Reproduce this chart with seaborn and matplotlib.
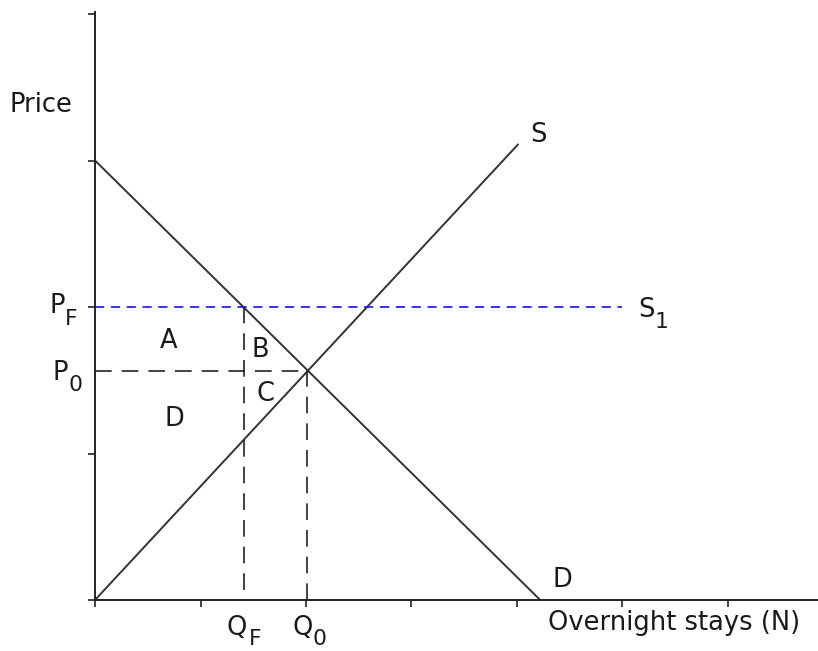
import numpy as np
import pandas as pd
import seaborn as sns
import matplotlib.pyplot as plt

# curves (quantity in tick units, price in tick units)
demand_q = [0.0, 4.22]
demand_p = [3.0, 0.0]
supply_q = [0.0, 4.01]
supply_p = [0.0, 3.11]

# equilibrium and floor price
q0, p0 = 2.01, 1.56
qf, pf = 1.41, 2.0
s1_end = 5.0

x_ticks = [0, 1, 2, 3, 4, 5, 6]
y_ticks = [0, 1, 2, 3, 4]

sns.set_theme(style="ticks")
plt.rcParams['font.family'] = ['DejaVu Sans']

W, H = 818, 651
fig = plt.figure(figsize=(W/100, H/100), dpi=100)
ax = fig.add_axes([95/W, 51/H, (W-95)/W, (600-12)/H])

demand = pd.DataFrame({'q': demand_q, 'p': demand_p})
supply = pd.DataFrame({'q': supply_q, 'p': supply_p})
sns.lineplot(data=demand, x='q', y='p', color='#333333', lw=1.4, ax=ax)
sns.lineplot(data=supply, x='q', y='p', color='#333333', lw=1.4, ax=ax)

# floor price line S1
ax.plot([0, s1_end], [pf, pf], color='#1010ff', lw=1.2, dashes=(5.5, 4))
# dashed guides
ax.plot([0, q0], [p0, p0], color='#222222', lw=1.2, dashes=(10, 6))
ax.plot([q0, q0], [0, p0], color='#222222', lw=1.2, dashes=(10, 6))
ax.plot([qf, qf], [0.07, pf], color='#222222', lw=1.2, dashes=(10, 6))

ax.set_xlim(0, (W-95)/105.5)
ax.set_ylim(0, (600-12)/146.5)
ax.set_xticks(x_ticks)
ax.set_yticks(y_ticks)
ax.set_xticklabels([])
ax.set_yticklabels([])
ax.tick_params(direction='out', length=5, width=1.2, color='#222222')
ax.set_xlabel('')
ax.set_ylabel('')
for s in ['top', 'right']:
    ax.spines[s].set_visible(False)
for s in ['left', 'bottom']:
    ax.spines[s].set_linewidth(1.4)
    ax.spines[s].set_color('#222222')

fs = 18.5
tc = '#1a1a1a'


def label(x, y, s, size=fs, ha='left', va='baseline'):
    fig.text(x/W, 1 - y/H, s, fontsize=size, color=tc, ha=ha, va=va)


def sub_label(x, y, main, sub, sx, sy):
    label(x, y, main)
    label(sx, sy, sub, size=fs*0.85)


label(10, 105, 'Price', va='center')
label(548, 623, 'Overnight stays (N)', va='center')
sub_label(50, 313, 'P', 'F', 65, 325)
sub_label(53, 380, 'P', '0', 68, 391)
sub_label(227, 635, 'Q', 'F', 249, 645)
sub_label(292, 635, 'Q', '0', 313, 645)
sub_label(638, 317, 'S', '1', 655, 328)
label(169, 341, 'A', ha='center', va='center')
label(260, 350, 'B', ha='center', va='center')
label(265, 394, 'C', ha='center', va='center')
label(174, 419, 'D', ha='center', va='center')
label(538, 135, 'S', ha='center', va='center')
label(562, 580, 'D', ha='center', va='center')

plt.savefig('out.png', dpi=100)
